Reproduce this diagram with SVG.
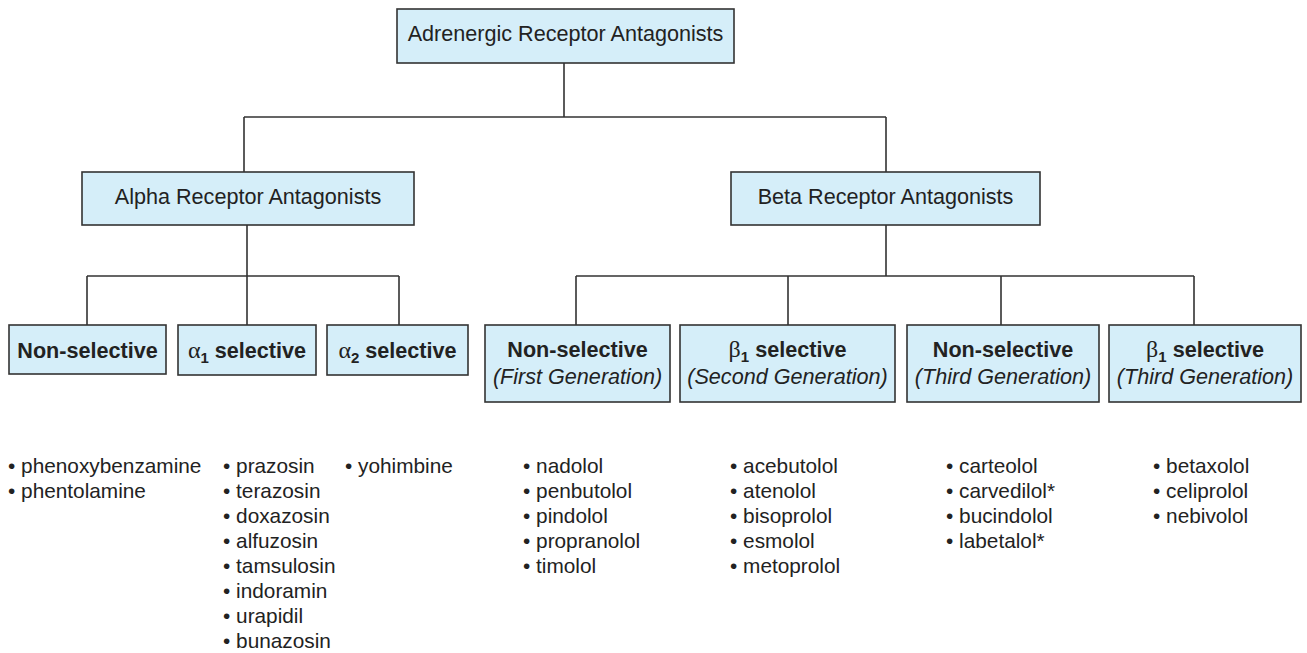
<svg xmlns="http://www.w3.org/2000/svg" width="1307" height="653" viewBox="0 0 1307 653">
<style>
.box{fill:#d5eef9;stroke:#333;stroke-width:1.6}
.t{font-family:"Liberation Sans",Arial,sans-serif;font-size:21.6px;fill:#222;text-anchor:middle}
.b{font-weight:bold}
.i{font-style:italic}
.g{font-family:"Liberation Serif","DejaVu Serif",serif;font-weight:normal}
.l{font-family:"Liberation Sans",Arial,sans-serif;font-size:20.8px;fill:#222}
.c{stroke:#333;stroke-width:1.6;fill:none}
</style>
<rect width="1307" height="653" fill="#fff"/>
<g id="connectors" class="c">
<path d="M564 63V117M244 117H886M244 117V172M886 117V172"/>
<path d="M247 225V276M87 276H399M87 276V325M247 276V325M399 276V325"/>
<path d="M886 225V276M576 276H1194M576 276V325M788 276V325M1001 276V325M1194 276V325"/>
</g>
<g id="root"><rect class="box" x="397" y="9" width="337" height="54"/><text class="t" x="565.5" y="41">Adrenergic Receptor Antagonists</text></g>
<g id="alpha"><rect class="box" x="82" y="172" width="332" height="53"/><text class="t" x="248" y="204">Alpha Receptor Antagonists</text></g>
<g id="beta"><rect class="box" x="731" y="172" width="309" height="53"/><text class="t" x="885.5" y="204">Beta Receptor Antagonists</text></g>
<g id="alpha-nonsel"><rect class="box" x="9" y="325" width="157" height="49"/><text class="t b" x="87.5" y="358">Non-selective</text></g>
<g id="alpha1"><rect class="box" x="178" y="325" width="138" height="50"/><text class="t b" x="247" y="358"><tspan class="g" font-size="24">α</tspan><tspan font-size="15" dy="5">1</tspan><tspan dy="-5"> selective</tspan></text></g>
<g id="alpha2"><rect class="box" x="327" y="325" width="141" height="50"/><text class="t b" x="397.5" y="358"><tspan class="g" font-size="24">α</tspan><tspan font-size="15" dy="5">2</tspan><tspan dy="-5"> selective</tspan></text></g>
<g id="beta-nonsel-1"><rect class="box" x="485" y="325" width="185" height="77"/><text class="t b" x="577.5" y="357">Non-selective</text><text class="t i" x="577.5" y="384">(First Generation)</text></g>
<g id="beta1-2"><rect class="box" x="680" y="325" width="215" height="77"/><text class="t b" x="787.5" y="357"><tspan class="g" font-size="24">β</tspan><tspan font-size="15" dy="5">1</tspan><tspan dy="-5"> selective</tspan></text><text class="t i" x="787.5" y="384">(Second Generation)</text></g>
<g id="beta-nonsel-3"><rect class="box" x="907" y="325" width="192" height="77"/><text class="t b" x="1003" y="357">Non-selective</text><text class="t i" x="1003" y="384">(Third Generation)</text></g>
<g id="beta1-3"><rect class="box" x="1109" y="325" width="192" height="77"/><text class="t b" x="1205" y="357"><tspan class="g" font-size="24">β</tspan><tspan font-size="15" dy="5">1</tspan><tspan dy="-5"> selective</tspan></text><text class="t i" x="1205" y="384">(Third Generation)</text></g>
<g id="list-alpha-nonsel"><text class="l" x="8" y="473">• phenoxybenzamine<tspan x="8" dy="25">• phentolamine</tspan></text></g>
<g id="list-alpha1"><text class="l" x="223" y="473">• prazosin<tspan x="223" dy="25">• terazosin</tspan><tspan x="223" dy="25">• doxazosin</tspan><tspan x="223" dy="25">• alfuzosin</tspan><tspan x="223" dy="25">• tamsulosin</tspan><tspan x="223" dy="25">• indoramin</tspan><tspan x="223" dy="25">• urapidil</tspan><tspan x="223" dy="25">• bunazosin</tspan></text></g>
<g id="list-alpha2"><text class="l" x="345" y="473">• yohimbine</text></g>
<g id="list-beta-nonsel-1"><text class="l" x="523" y="473">• nadolol<tspan x="523" dy="25">• penbutolol</tspan><tspan x="523" dy="25">• pindolol</tspan><tspan x="523" dy="25">• propranolol</tspan><tspan x="523" dy="25">• timolol</tspan></text></g>
<g id="list-beta1-2"><text class="l" x="730" y="473">• acebutolol<tspan x="730" dy="25">• atenolol</tspan><tspan x="730" dy="25">• bisoprolol</tspan><tspan x="730" dy="25">• esmolol</tspan><tspan x="730" dy="25">• metoprolol</tspan></text></g>
<g id="list-beta-nonsel-3"><text class="l" x="946" y="473">• carteolol<tspan x="946" dy="25">• carvedilol*</tspan><tspan x="946" dy="25">• bucindolol</tspan><tspan x="946" dy="25">• labetalol*</tspan></text></g>
<g id="list-beta1-3"><text class="l" x="1153" y="473">• betaxolol<tspan x="1153" dy="25">• celiprolol</tspan><tspan x="1153" dy="25">• nebivolol</tspan></text></g>
</svg>
